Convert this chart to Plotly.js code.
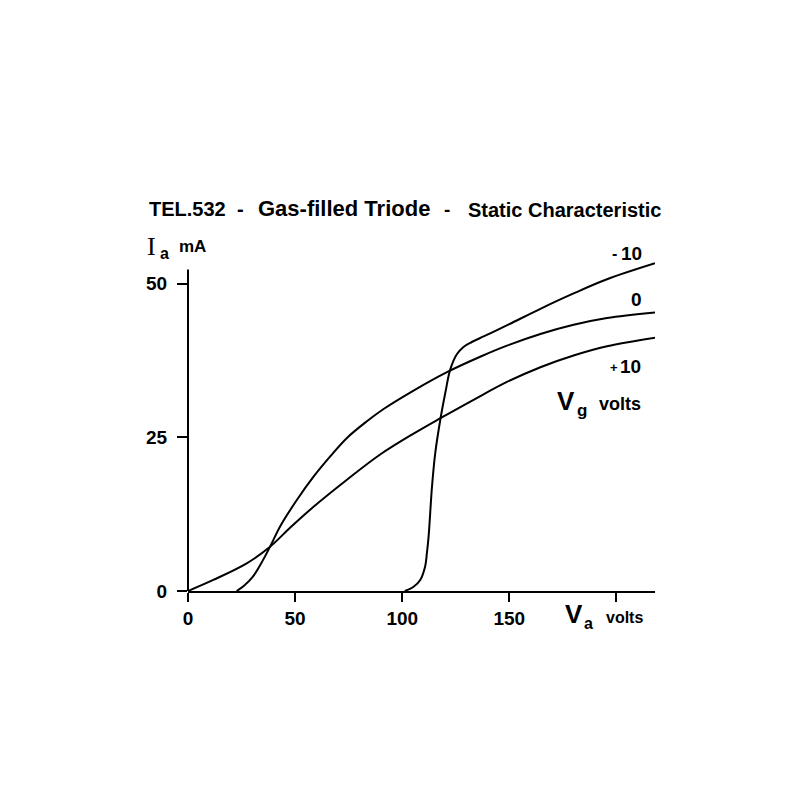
<!DOCTYPE html>
<html>
<head>
<meta charset="utf-8">
<script src="https://cdn.plot.ly/plotly-3.0.1.min.js"></script>
<style>html,body{margin:0;padding:0;background:#fff}#chart{width:800px;height:800px}</style>
</head>
<body>
<div id="chart"></div>
<script>
// Vg = +10 V
const vaPlus10 = [0, 11.8, 27.4, 38.3, 48, 58.6, 74.2, 89.7, 105.3, 117.8, 133.3, 148.9, 164.5, 180, 195.6, 218];
const iaPlus10 = [0, 1.8, 4.5, 7.2, 10.4, 13.7, 18.1, 22.2, 25.6, 28.1, 31.1, 34.0, 36.4, 38.3, 39.8, 41.2];
// Vg = 0 V
const vaZero = [22.7, 26, 30, 34, 38.3, 43, 50.8, 58.6, 66.4, 74.2, 83.5, 91.3, 105.3, 120.9, 136.4, 148.9, 164.5, 180, 195.6, 218];
const iaZero = [0, 0.8, 2.2, 4.4, 7.2, 10.5, 14.8, 18.6, 21.9, 24.9, 27.6, 29.6, 32.6, 35.6, 38.1, 39.9, 41.8, 43.3, 44.4, 45.3];
// Vg = -10 V
const vaMinus10 = [101.2, 105.3, 108.4, 110.7, 111.5, 112.3, 113.9, 115.4, 117.8, 120.1, 122.4, 125.5, 128.6, 132.5, 138, 144, 150, 164.5, 180, 195.6, 218];
const iaMinus10 = [0, 0.7, 1.8, 4.0, 6.1, 8.8, 17, 22.4, 27.9, 32.2, 36.0, 38.5, 39.7, 40.5, 41.4, 42.4, 43.4, 45.9, 48.4, 50.7, 53.3];

const xTickVals = [0, 50, 100, 150, 200];
const xTickText = ['0', '50', '100', '150', ''];
const yTickVals = [0, 25, 50];
const yTickText = ['0', '25', '50'];

const SANS = 'Liberation Sans, Arial, Helvetica, sans-serif';
const SERIF = 'Liberation Serif, Times New Roman, serif';

const L = 188, R = 655, B = 591, T = 259;
const px = x => (x - L) / (R - L);
const py = y => (B - y) / (B - T);

function lab(text, x, y, size, opts) {
  opts = opts || {};
  return {
    text: text, xref: 'paper', yref: 'paper', x: px(x), y: py(y),
    xanchor: opts.xanchor || 'center', yanchor: 'middle', showarrow: false,
    font: {family: opts.family || SANS, size: size, color: '#000', weight: opts.weight || 'bold'}
  };
}

const line = {color: '#000', width: 2, shape: 'spline', smoothing: 1};
const traces = [
  {x: vaPlus10, y: iaPlus10, mode: 'lines', line: line, name: '+10', hoverinfo: 'skip'},
  {x: vaZero, y: iaZero, mode: 'lines', line: line, name: '0', hoverinfo: 'skip'},
  {x: vaMinus10, y: iaMinus10, mode: 'lines', line: line, name: '-10', hoverinfo: 'skip'}
];

const layout = {
  width: 800, height: 800,
  margin: {l: L, r: 800 - R, t: T, b: 800 - B, pad: 0},
  paper_bgcolor: '#fff', plot_bgcolor: '#fff',
  showlegend: false,
  xaxis: {
    range: [0, 218], showgrid: false, zeroline: false,
    showline: true, linecolor: '#000', linewidth: 2,
    ticks: 'outside', ticklen: 9, tickwidth: 2, tickcolor: '#000',
    tickvals: xTickVals, ticktext: xTickText, ticklabelstandoff: 0,
    tickfont: {family: SANS, size: 19, color: '#000', weight: 'bold'}
  },
  yaxis: {
    range: [0, 54], showgrid: false, zeroline: false, showline: false,
    ticks: 'outside', ticklen: 10, tickwidth: 2, tickcolor: '#000',
    tickvals: yTickVals, ticktext: yTickText, ticklabelstandoff: 6,
    tickfont: {family: SANS, size: 19, color: '#000', weight: 'bold'}
  },
  shapes: [
    {type: 'line', xref: 'paper', yref: 'y', x0: 0, x1: 0, y0: 0, y1: 52.3, line: {color: '#000', width: 2}}
  ],
  annotations: [
    lab('TEL.532', 147, 209, 20, {xanchor: 'left'}),
    lab('-', 240, 209, 20),
    lab('Gas-filled Triode', 256, 209, 22, {xanchor: 'left'}),
    lab('-', 447, 210, 19),
    lab('Static Characteristic', 663, 210, 20, {xanchor: 'right'}),
    lab('I', 151, 246, 26, {family: SERIF, weight: 'normal'}),
    lab('a', 164, 253, 16),
    lab('mA', 192, 246, 17),
    lab('V', 574, 614, 26),
    lab('a', 588, 623, 16),
    lab('volts', 624, 617, 16),
    lab('-', 614, 253, 16),
    lab('10', 631, 253, 19),
    lab('0', 636, 299, 19),
    lab('+', 614, 367, 13),
    lab('10', 630, 366, 19),
    lab('V', 566, 401, 26),
    lab('g', 582, 410, 17),
    lab('volts', 620, 404, 18)
  ]
};

Plotly.newPlot('chart', traces, layout, {staticPlot: true, displayModeBar: false});
</script>
</body>
</html>
